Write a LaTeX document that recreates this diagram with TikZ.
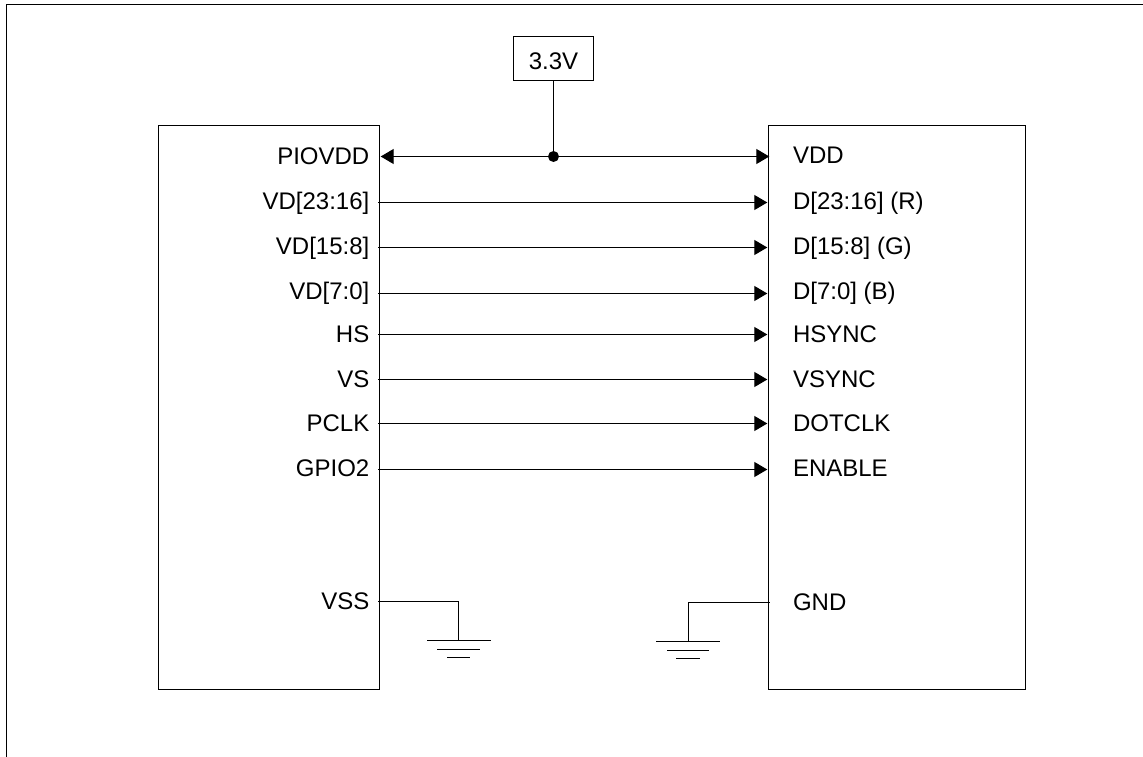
\documentclass[tikz,border=0pt]{standalone}
\usepackage{fontspec}
\setmainfont{Liberation Sans}
\usetikzlibrary{arrows.meta}
\tikzset{
  x=1pt,y=-1pt,
  wire/.style={line width=1.1pt,draw=black},
  sig/.style={wire,-{Triangle[length=13pt,width=15pt]}},
  lab/.style={inner sep=0pt,font=\fontsize{24}{26}\selectfont},
  ll/.style={lab,anchor=base east},
  rl/.style={lab,anchor=base west},
  chip/.style={wire,draw,inner sep=0pt,outer sep=0pt,anchor=north west},
  dot/.style={circle,fill=black,inner sep=0pt,outer sep=0pt,minimum size=11pt}
}
\begin{document}
\begin{tikzpicture}[line cap=butt]
\useasboundingbox (0,0) rectangle (1143,757);
\draw[wire] (6.5,757) -- (6.5,4.5) -- (1143,4.5);
\node[chip,minimum width=221pt,minimum height=564pt] (L) at (158.5,125.5) {};
\node[chip,minimum width=257pt,minimum height=564pt] (R) at (768.5,125.5) {};
\node[wire,draw,minimum width=80pt,minimum height=44pt,inner sep=0pt,outer sep=0pt] (V) at (553.5,58.5) {};
\node[lab,anchor=base] (Vt) at (553.5,70) {3.3V};
\coordinate (a0) at (380.7,156.5); \coordinate (b0) at (769.3,156.5);
\node[dot] (J) at (553.5,156.5) {};
\draw[wire,{Triangle[length=13pt,width=15pt]}-{Triangle[length=13pt,width=15pt]}] (a0) -- (b0);
\draw[wire] (V.south) -- (J.center);
\foreach \n/\y/\by/\l/\r in {1/202.5/209.5/{VD[23:16]}/{D[23:16] (R)},2/247.5/254.5/{VD[15:8]}/{D[15:8] (G)},3/293.5/299/{VD[7:0]}/{D[7:0] (B)},4/334.5/342.2/HS/HSYNC,5/379.5/387/VS/VSYNC,6/423.5/431.2/PCLK/DOTCLK,7/469.5/476.2/GPIO2/ENABLE}{
  \coordinate (a\n) at (378,\y); \coordinate (b\n) at (767.3,\y);
  \draw[sig] (a\n) -- (b\n);
  \node[ll] (ln\n) at (369.5,\by) {\l};
  \node[rl] (rn\n) at (792.8,\by) {\r};
}
\node[ll] (ln0) at (369.5,164.5) {PIOVDD};
\node[rl] (rn0) at (792.8,164) {VDD};
\node[ll] (ln8) at (369.5,609) {VSS};
\node[rl] (rn8) at (792.8,610) {GND};
% grounds
\coordinate (vs) at (378,601.5); \coordinate (g1) at (458.5,640.5);
\draw[wire] (vs) -| (g1);
\draw[wire] (427,640.5) -- (491,640.5) (437,649.5) -- (480,649.5) (447,657.5) -- (470,657.5);
\coordinate (gn) at (769.7,602.5); \coordinate (g2) at (688.5,641.5);
\draw[wire] (gn) -| (g2);
\draw[wire] (656,641.5) -- (720,641.5) (667,650.5) -- (709,650.5) (676,658.5) -- (700,658.5);
\end{tikzpicture}
\end{document}
